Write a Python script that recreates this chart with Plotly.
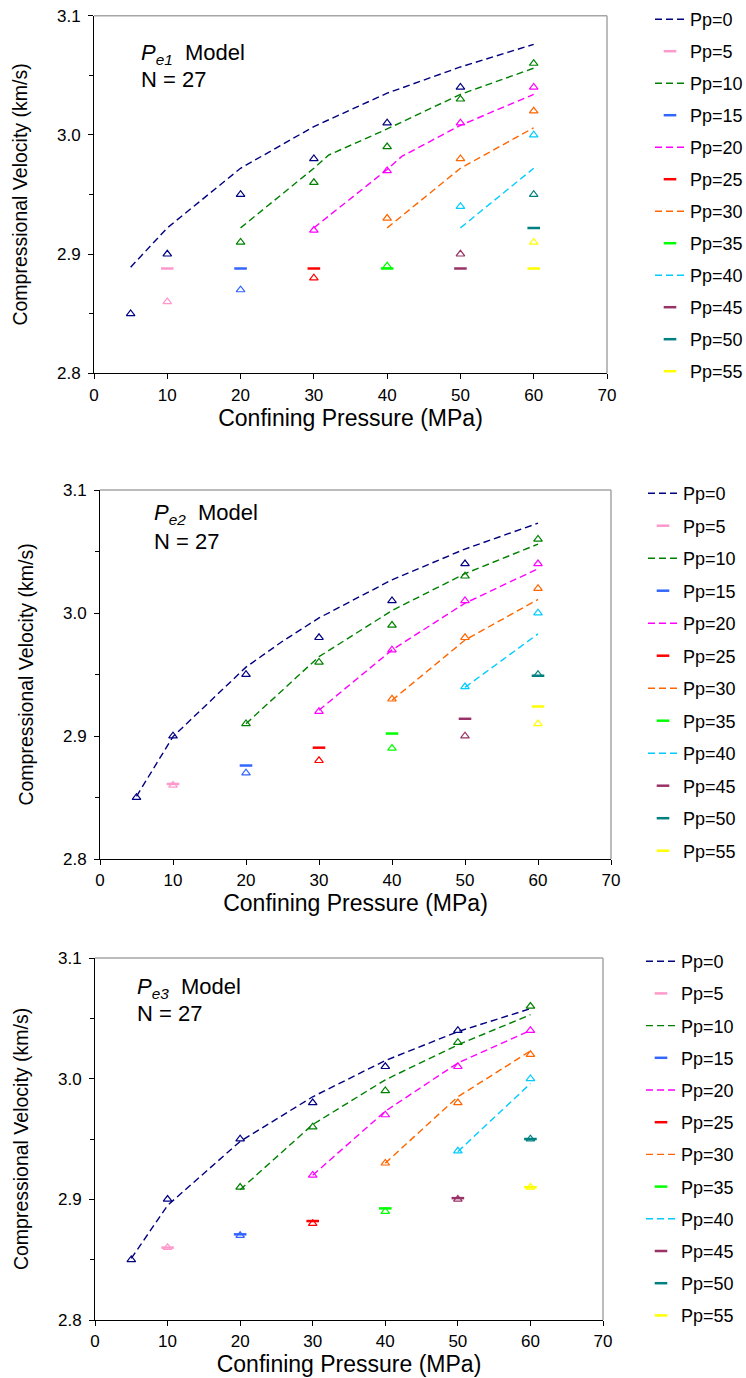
import plotly.graph_objects as go

# ---------------- data ----------------
pp_labels = ["Pp=0", "Pp=5", "Pp=10", "Pp=15", "Pp=20", "Pp=25",
             "Pp=30", "Pp=35", "Pp=40", "Pp=45", "Pp=50", "Pp=55"]
pp_colors = ["#000080", "#FF99CC", "#008000", "#3366FF", "#FF00FF", "#FF0000",
             "#FF6600", "#00FF00", "#00CCFF", "#993366", "#008080", "#FFFF00"]
# curve (dashed) or single point (short bar) model
pp_is_curve = [True, False, True, False, True, False,
               True, False, True, False, False, False]

# measured data (same in all three panels): confining pressure (MPa), Vp (km/s)
meas_pc = [[5, 10, 20, 30, 40, 50], [10], [20, 30, 40, 50, 60], [20],
           [30, 40, 50, 60], [30], [40, 50, 60], [40], [50, 60], [50], [60], [60]]
meas_vp = [[2.85, 2.90, 2.95, 2.98, 3.01, 3.04], [2.86], [2.91, 2.96, 2.99, 3.03, 3.06], [2.87],
           [2.92, 2.97, 3.01, 3.04], [2.88], [2.93, 2.98, 3.02], [2.89], [2.94, 3.00], [2.90],
           [2.95], [2.91]]

# Pe1 model
pe1_pc = [[5, 10, 20, 30, 40, 50, 60], [10], [20, 30, 32, 40, 50, 60], [20],
          [30, 40, 42, 50, 60], [30], [40, 50, 60], [40], [50, 60], [50], [60], [60]]
pe1_vp = [[2.889, 2.922, 2.972, 3.007, 3.035, 3.057, 3.076], [2.888],
          [2.922, 2.972, 2.983, 3.005, 3.034, 3.056], [2.888],
          [2.922, 2.971, 2.982, 3.008, 3.034], [2.888],
          [2.922, 2.972, 3.006], [2.888], [2.922, 2.972], [2.888], [2.922], [2.888]]

# Pe2 model
pe2_pc = [[5, 10, 20, 25, 30, 40, 50, 60], [10], [20, 30, 40, 50, 60], [20],
          [30, 40, 50, 60], [30], [40, 50, 60], [40], [50, 60], [50], [60], [60]]
pe2_vp = [[2.851, 2.8995, 2.956, 2.977, 2.996, 3.027, 3.052, 3.073], [2.861],
          [2.910, 2.9645, 3.002, 3.032, 3.056], [2.876],
          [2.921, 2.970, 3.008, 3.036], [2.8905],
          [2.929, 2.978, 3.011], [2.902], [2.9395, 2.983], [2.914], [2.949], [2.924]]

# Pe3 model
pe3_pc = [[5, 10, 20, 30, 40, 50, 60], [10], [20, 30, 40, 50, 60], [20],
          [30, 40, 50, 60], [30], [40, 50, 60], [40], [50, 60], [50], [60], [60]]
pe3_vp = [[2.851, 2.895, 2.948, 2.985, 3.015, 3.039, 3.058], [2.860],
          [2.908, 2.962, 2.999, 3.028, 3.053], [2.871],
          [2.920, 2.973, 3.013, 3.040], [2.882],
          [2.930, 2.985, 3.023], [2.8925], [2.9395, 2.996], [2.901], [2.950], [2.910]]

model_names = ["e1", "e2", "e3"]
x_ticks = [0, 10, 20, 30, 40, 50, 60, 70]
y_ticks = [2.8, 2.9, 3.0, 3.1]

# ---------------- layout geometry ----------------
W, H = 746, 1378
FONT = "Liberation Sans, Arial, sans-serif"

panels = [
    dict(pc=pe1_pc, vp=pe1_vp, x0=94, x1=607, ytop=15.7, ybot=373.3,
         leg_x=650, leg_y=1, gap=5.6, ann_x=139, ann_y1=54, ann_y2=80),
    dict(pc=pe2_pc, vp=pe2_vp, x0=100, x1=611, ytop=490, ybot=859,
         leg_x=643, leg_y=475, gap=6.1, ann_x=152, ann_y1=514, ann_y2=541),
    dict(pc=pe3_pc, vp=pe3_vp, x0=95, x1=603, ytop=958, ybot=1320,
         leg_x=641, leg_y=943, gap=5.8, ann_x=135, ann_y1=988, ann_y2=1014),
]

fig = go.Figure()
layout = dict(width=W, height=H,
              margin=dict(l=0, r=0, t=0, b=0, autoexpand=False),
              paper_bgcolor="white", plot_bgcolor="white",
              font=dict(family=FONT, color="black"), annotations=[], shapes=[])

for k, p in enumerate(panels):
    sx = "" if k == 0 else str(k + 1)
    xa, ya = "x" + sx, "y" + sx
    leg = "legend" + sx
    for i in range(len(pp_labels)):
        grp = f"g{k}_{i}"
        if pp_is_curve[i]:
            fig.add_trace(go.Scatter(
                x=p["pc"][i], y=p["vp"][i], mode="lines", name=pp_labels[i],
                line=dict(color=pp_colors[i], width=1.4, dash="7px,4px"),
                xaxis=xa, yaxis=ya, legend=leg, legendgroup=grp, showlegend=True))
        else:
            fig.add_trace(go.Scatter(
                x=p["pc"][i], y=p["vp"][i], mode="markers", name=pp_labels[i],
                marker=dict(symbol="line-ew", size=9, color=pp_colors[i],
                            line=dict(color=pp_colors[i], width=2.5)),
                xaxis=xa, yaxis=ya, legend=leg, legendgroup=grp, showlegend=True))
        fig.add_trace(go.Scatter(
            x=meas_pc[i], y=meas_vp[i], mode="markers", name=pp_labels[i] + " data",
            marker=dict(symbol="triangle-up-open", size=7.5, color=pp_colors[i],
                        line=dict(color=pp_colors[i], width=1.2)),
            xaxis=xa, yaxis=ya, legendgroup=grp, showlegend=False))

    xdom = [p["x0"] / W, p["x1"] / W]
    ydom = [1 - p["ybot"] / H, 1 - p["ytop"] / H]
    layout["xaxis" + sx] = dict(
        domain=xdom, range=[0, 70], tickvals=x_ticks, anchor=ya,
        showline=True, linecolor="black", linewidth=1, ticks="outside", ticklen=5,
        tickcolor="black", showgrid=False, zeroline=False,
        tickfont=dict(size=17, family=FONT), ticklabelstandoff=1,
        title=dict(text="Confining Pressure (MPa)", font=dict(size=23, family=FONT),
                   standoff=4))
    layout["yaxis" + sx] = dict(
        domain=ydom, range=[2.8, 3.1], tickvals=y_ticks, tickformat=".1f", anchor=xa,
        showline=True, linecolor="black", linewidth=1, ticks="outside", ticklen=5,
        tickcolor="black", showgrid=False, zeroline=False,
        minor=dict(dtick=0.05, tick0=2.8, ticks="outside", ticklen=4, tickcolor="black"),
        tickfont=dict(size=17, family=FONT), ticklabelstandoff=4,
        title=dict(text="Compressional Velocity (km/s)", font=dict(size=19.5, family=FONT),
                   standoff=24))
    layout[leg] = dict(x=p["leg_x"] / W, y=1 - p["leg_y"] / H, xanchor="left",
                       yanchor="top", font=dict(size=18, family=FONT),
                       traceorder="grouped", tracegroupgap=p["gap"],
                       bgcolor="rgba(0,0,0,0)", borderwidth=0)
    # gray top/right frame
    layout["shapes"] += [
        dict(type="line", xref=xa + " domain", yref=ya + " domain", x0=0, x1=1, y0=1, y1=1,
             line=dict(color="#A6A6A6", width=1.5)),
        dict(type="line", xref=xa + " domain", yref=ya + " domain", x0=1, x1=1, y0=0, y1=1,
             line=dict(color="#A6A6A6", width=1.5)),
    ]
    layout["annotations"] += [
        dict(xref="paper", yref="paper", x=p["ann_x"] / W, y=1 - p["ann_y1"] / H,
             xanchor="left", yanchor="middle", showarrow=False,
             text=f"<i>P</i><sub><i>{model_names[k]}</i></sub>  Model",
             font=dict(size=22, family=FONT)),
        dict(xref="paper", yref="paper", x=p["ann_x"] / W, y=1 - p["ann_y2"] / H,
             xanchor="left", yanchor="middle", showarrow=False,
             text="N = 27", font=dict(size=22, family=FONT)),
    ]

fig.update_layout(**layout)
fig.write_html("out.html")
